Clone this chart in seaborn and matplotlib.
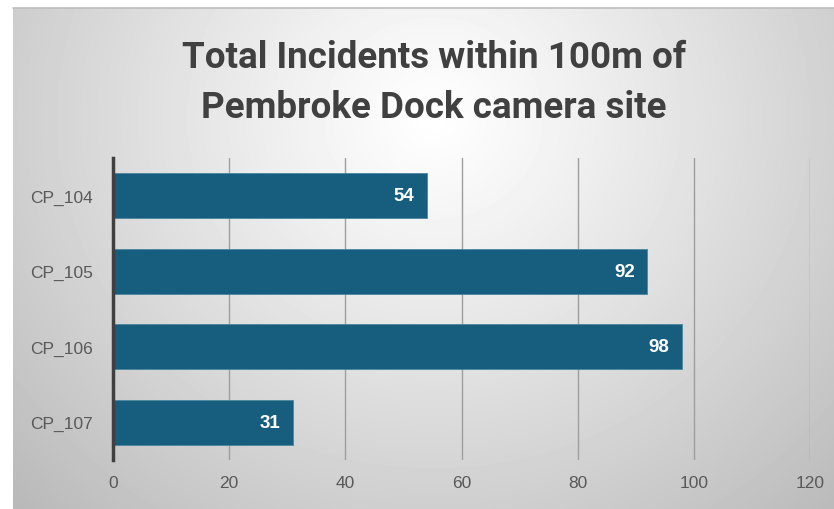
import numpy as np
import pandas as pd
import matplotlib
matplotlib.use("Agg")
import matplotlib.pyplot as plt
import seaborn as sns

sites = ["CP_104", "CP_105", "CP_106", "CP_107"]
incidents = [54, 92, 98, 31]
x_ticks = [0, 20, 40, 60, 80, 100, 120]
title = "Total Incidents within 100m of\nPembroke Dock camera site"

df = pd.DataFrame({"site": sites, "incidents": incidents})

sns.set_style("white")
plt.rcParams["font.family"] = ["Liberation Sans", "DejaVu Sans"]

W, H = 834, 510
fig = plt.figure(figsize=(W / 100, H / 100), dpi=100)
fig.patch.set_facecolor("white")

# radial grey gradient panel behind the chart
bg = fig.add_axes([13 / W, 0, 1 - 13 / W, 1 - 9 / H], zorder=0)
yy, xx = np.mgrid[0:501, 0:821]
r = np.sqrt(((xx - 420) / 560) ** 2 + ((yy - 110) / 520) ** 2)
shade = np.clip(1.0 - 0.26 * r ** 1.1, 0, 1)
bg.imshow(shade, cmap="gray", vmin=0, vmax=1, aspect="auto",
          extent=[0, 1, 1, 0], interpolation="bilinear")
bg.set_axis_off()
fig.add_artist(plt.Line2D([13 / W, 1], [1 - 9 / H, 1 - 9 / H],
                          color="#bdbdbd", lw=1.2, transform=fig.transFigure))

ax = fig.add_axes([113 / W, 1 - 461 / H, (810 - 113) / W, (461 - 159) / H], zorder=1)
ax.patch.set_alpha(0)
sns.barplot(data=df, y="site", x="incidents", orient="h", color="#175e7e",
            saturation=1, width=0.59, edgecolor="#4a86a0", linewidth=0.6,
            ax=ax, zorder=3)
ax.set_xlim(0, 120)
ax.set_ylim(3.5, -0.5)
ax.set_xticks(x_ticks)
ax.xaxis.grid(True, color="#9e9e9e", linewidth=1.0)
ax.set_axisbelow(True)
for s in ["top", "right", "bottom"]:
    ax.spines[s].set_visible(False)
ax.spines["left"].set_color("#404040")
ax.spines["left"].set_linewidth(2.5)
ax.spines["left"].set_zorder(4)
ax.tick_params(axis="both", length=0, labelsize=12.5, labelcolor="#595959")
ax.tick_params(axis="x", pad=11)
ax.tick_params(axis="y", pad=14.5)
ax.set_xlabel("")
ax.set_ylabel("")

for i, v in enumerate(incidents):
    ax.annotate(str(v), xy=(v, i), xytext=(-9, 0), textcoords="offset points",
                ha="right", va="center", color="white", fontsize=13.5,
                fontweight="bold", zorder=5)

fig.text(434 / W, 1 - 83 / H, title, ha="center", va="center",
         fontsize=26.5, fontweight="bold", fontstretch="condensed", color="#404040",
         family=["Roboto", "DejaVu Sans"], linespacing=1.5)

fig.savefig("out.png", dpi=100)
